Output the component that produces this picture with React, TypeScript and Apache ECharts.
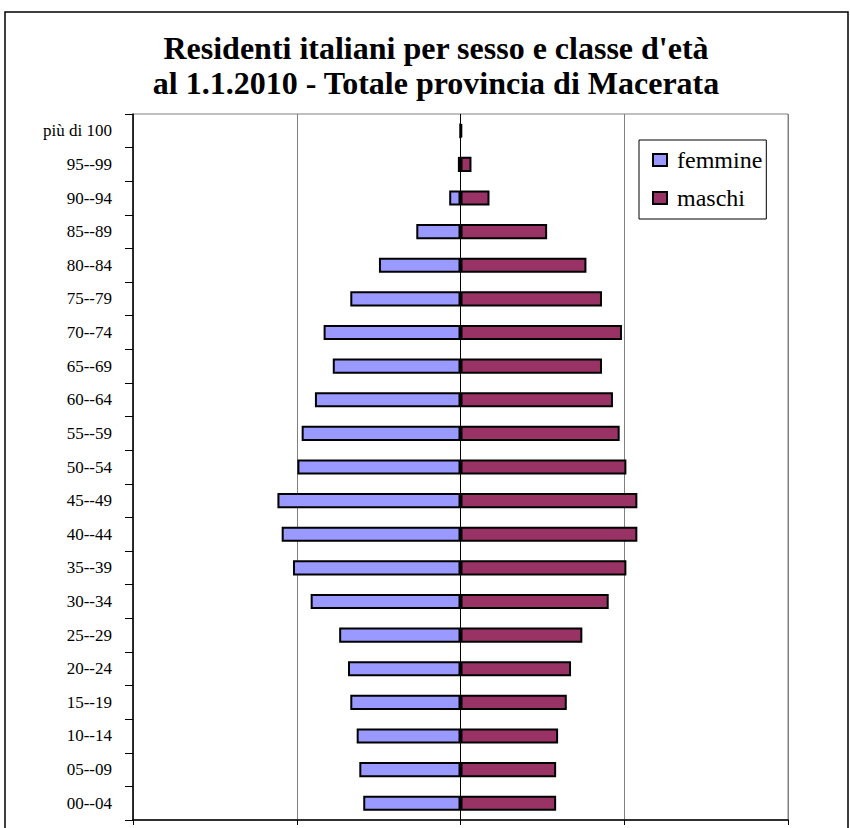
import React, { useEffect, useRef } from "react";
import * as echarts from "echarts";

const categories = [
  "00--04", "05--09", "10--14", "15--19", "20--24", "25--29", "30--34",
  "35--39", "40--44", "45--49", "50--54", "55--59", "60--64", "65--69",
  "70--74", "75--79", "80--84", "85--89", "90--94", "95--99", "più di 100",
];
const femmine = [
  5940, 6180, 6340, 6730, 6870, 7410, 9150, 10230, 10920, 11180, 9960,
  9700, 8890, 7800, 8360, 6730, 4980, 2700, 690, 160, 30,
];
const maschi = [
  5840, 5840, 5960, 6490, 6750, 7440, 9050, 10130, 10800, 10800, 10130,
  9720, 9310, 8640, 9860, 8640, 7690, 5290, 1770, 670, 100,
];
const xMin = -20000;
const xMax = 20000;
const xInterval = 10000;

const titleText = "Residenti italiani per sesso e classe d'età\nal 1.1.2010 - Totale provincia di Macerata";

export default function App() {
  const ref = useRef<HTMLDivElement>(null);
  useEffect(() => {
    document.body.style.margin = "0";
    if (!ref.current) return;
    const chart = echarts.init(ref.current, undefined, { renderer: "svg" });
    const serif = "Liberation Serif";
    chart.setOption({
      animation: false,
      backgroundColor: "#ffffff",
      title: {
        text: titleText,
        left: 431,
        top: 25,
        textAlign: "center",
        textStyle: {
          fontFamily: serif,
          fontWeight: "bold",
          fontSize: 32,
          lineHeight: 35,
          color: "#000",
        },
      },
      graphic: [
        {
          type: "rect",
          shape: { x: 5, y: 12, width: 843, height: 830 },
          style: { fill: "none", stroke: "#000", lineWidth: 1.5 },
          z: 100,
        },
      ],
      legend: {
        orient: "vertical",
        left: 639,
        top: 140,
        data: ["femmine", "maschi"],
        backgroundColor: "#fff",
        borderColor: "#000",
        borderWidth: 1,
        padding: [8, 4, 9, 13],
        itemGap: 14,
        itemWidth: 14,
        itemHeight: 12,
        icon: "rect",
        textStyle: {
          fontFamily: serif,
          fontSize: 24,
          color: "#000",
          padding: [0, 0, 0, 5],
        },
        z: 10,
      },
      grid: {
        left: 133,
        right: 62,
        top: 114,
        bottom: 8,
        show: true,
        borderColor: "#808080",
        borderWidth: 1,
        containLabel: false,
      },
      xAxis: {
        type: "value",
        min: xMin,
        max: xMax,
        interval: xInterval,
        axisLine: { show: true, onZero: false, lineStyle: { color: "#000", width: 1.5 } },
        axisTick: { show: true, length: 5, lineStyle: { color: "#000" } },
        axisLabel: { show: false },
        splitLine: { show: true, lineStyle: { color: "#808080", width: 1 } },
      },
      yAxis: {
        type: "category",
        data: categories,
        axisLine: { show: true, onZero: false, lineStyle: { color: "#000", width: 1.5 } },
        axisTick: { show: true, length: 8, inside: false, lineStyle: { color: "#000", width: 1 } },
        axisLabel: {
          fontFamily: serif,
          fontSize: 17,
          color: "#000",
          margin: 21,
        },
        splitLine: { show: false },
      },
      series: [
        {
          name: "femmine",
          type: "bar",
          stack: "tot",
          barWidth: "45%",
          data: femmine.map((v) => -v),
          itemStyle: { color: "#9999FF", borderColor: "#000", borderWidth: 2 },
          markLine: {
            silent: true,
            symbol: "none",
            label: { show: false },
            lineStyle: { color: "#000", width: 1, type: "solid" },
            data: [{ xAxis: 0 }],
          },
        },
        {
          name: "maschi",
          type: "bar",
          stack: "tot",
          barWidth: "45%",
          data: maschi,
          itemStyle: { color: "#993366", borderColor: "#000", borderWidth: 2 },
        },
      ],
    });
    return () => chart.dispose();
  }, []);
  return <div ref={ref} style={{ width: 850, height: 828 }} />;
}
